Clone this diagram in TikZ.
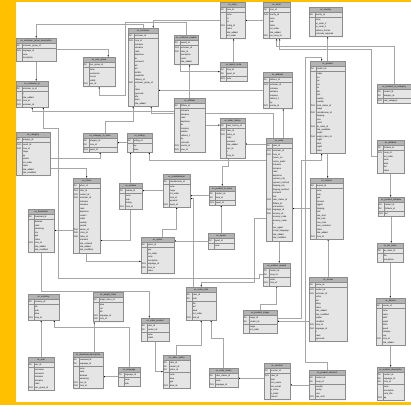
\documentclass[tikz,border=0pt]{standalone}
\usepackage{fontspec}
\setmainfont{Liberation Sans}
\usetikzlibrary{calc, positioning, shapes.multipart, arrows.meta, backgrounds, shadows}

\definecolor{framecol}{RGB}{255,192,0}
\definecolor{hdrcol}{RGB}{192,192,192}
\definecolor{edgecol}{RGB}{140,140,140}

\tikzstyle{dbtable}=[rectangle split, rectangle split parts=3, draw=edgecol, line width=0.3mm,
  rectangle split part fill={hdrcol,white,white}, rectangle split part align={center,left,left},
  drop shadow={opacity=0.2, shadow xshift=0.7mm, shadow yshift=-0.7mm},
  inner xsep=0.8mm, inner ysep=2pt, anchor=north west, font=\fontsize{6.2}{9.9}\selectfont]
\tikzstyle{divider}=[draw=edgecol, line width=0.2mm]
\tikzstyle{fk}=[draw=black!35, line width=0.45mm, -{Latex[length=1.6mm,width=1.4mm,black]}]

% one row of a table: key label, column name
\newcommand{\dbrow}[2]{\makebox[5.2mm][l]{#1}#2}
\newcommand{\dbf}[1]{\dbrow{}{#1}}
% name, top left corner, width, title, key rows, other rows
\newcommand{\dbtable}[6]{%
  \node[dbtable, minimum width=#3mm] (#1) at #2
    {\strut #4\nodepart{two}\begin{tabular}{@{}l@{}}#5\end{tabular}\nodepart{three}\begin{tabular}{@{}l@{}}#6\end{tabular}};%
  \draw[divider] ([xshift=6mm]#1.text split west) -- ([xshift=6mm]#1.south west);%
}

\begin{document}
\begin{tikzpicture}[x=1mm, y=-1mm]
\useasboundingbox (0,0) rectangle (411,405);

% Customer tables
\dbtable{cgd}{(16,38)}{40}{oc\_customer\_group\_description}{\dbrow{PK}{customer\_group\_id}}
  {\dbrow{FK1}{language\_id}\\\dbf{name}\\\dbf{description}}
\dbtable{ugr}{(83,57)}{32}{oc\_user\_group}{\dbrow{PK}{user\_group\_id}}
  {\dbf{name}\\\dbf{permission}\\\dbf{access}\\\dbf{modify}\\\dbrow{FK1}{user\_id}}
\dbtable{cip}{(16,81)}{32}{oc\_customer\_ip}{\dbrow{PK}{customer\_ip\_id}}
  {\dbf{ip}\\\dbf{date\_added}\\\dbrow{FK1}{store\_id}\\\dbrow{FK2}{customer\_id}}
\dbtable{cus}{(128,28)}{30}{oc\_customer}{\dbrow{PK}{customer\_id}}
  {\dbrow{FK1}{store\_id}\\\dbf{firstname}\\\dbf{lastname}\\\dbf{email}\\\dbf{telephone}\\\dbf{fax}\\\dbf{password}\\\dbf{salt}\\\dbf{cart}\\\dbf{wishlist}\\\dbf{newsletter}\\\dbf{address\_id}\\\dbrow{FK2}{customer\_group\_id}\\\dbf{ip}\\\dbf{status}\\\dbf{approved}\\\dbf{safe}\\\dbf{token}\\\dbf{date\_added}}
\dbtable{crw}{(174,35)}{24}{oc\_customer\_reward}{\dbrow{PK}{reward\_id}}
  {\dbrow{FK1}{customer\_id}\\\dbrow{FK2}{order\_id}\\\dbf{description}\\\dbf{points}\\\dbf{date\_added}}
\dbtable{aff}{(174,98)}{31}{oc\_affiliate}{\dbrow{PK}{affiliate\_id}}
  {\dbf{firstname}\\\dbf{lastname}\\\dbf{email}\\\dbf{telephone}\\\dbf{fax}\\\dbf{company}\\\dbf{website}\\\dbf{address\_1}\\\dbf{city}\\\dbf{postcode}\\\dbrow{FK1}{country\_id}\\\dbrow{FK2}{zone\_id}}

% Store and location tables
\dbtable{str}{(220,2)}{25}{oc\_store}{\dbrow{PK}{store\_id}}
  {\dbf{name}\\\dbf{url}\\\dbf{ssl}\\\dbrow{FK1}{config\_id}\\\dbf{status}\\\dbf{date\_added}\\\dbf{sort\_order}}
\dbtable{sly}{(220,62)}{27}{oc\_layout\_route}{\dbrow{PK}{store\_id}\\\dbrow{PK}{layout\_id}}
  {\dbrow{FK1}{route}}
\dbtable{his}{(220,118)}{25}{oc\_order\_history}{\dbrow{PK}{order\_history\_id}}
  {\dbrow{FK1}{order\_id}\\\dbrow{FK2}{status\_id}\\\dbf{notify}\\\dbf{comment}\\\dbf{date\_added}\\\dbf{user\_id}\\\dbf{ip}\\\dbf{store\_id}}
\dbtable{zon}{(263,2)}{27}{oc\_zone}{\dbrow{PK}{zone\_id}}
  {\dbrow{FK1}{country\_id}\\\dbf{name}\\\dbf{code}\\\dbf{status}\\\dbf{sort\_order}\\\dbf{date\_added}\\\dbrow{FK2}{geo\_zone\_id}}
\dbtable{ctr}{(309,7)}{33}{oc\_country}{\dbrow{PK}{country\_id}}
  {\dbf{name}\\\dbf{iso\_code\_2}\\\dbf{iso\_code\_3}\\\dbf{address\_format}\\\dbf{postcode\_required}}
\dbtable{adr}{(263,72)}{29}{oc\_address}{\dbrow{PK}{address\_id}}
  {\dbrow{FK1}{customer\_id}\\\dbf{firstname}\\\dbf{lastname}\\\dbf{company}\\\dbf{address\_1}\\\dbf{city}\\\dbrow{FK2}{country\_id}}

% Product tables
\dbtable{prd}{(310,61)}{35}{oc\_product}{\dbrow{PK}{product\_id}}
  {\dbf{model}\\\dbf{sku}\\\dbf{upc}\\\dbf{ean}\\\dbf{jan}\\\dbf{isbn}\\\dbf{mpn}\\\dbf{location}\\\dbf{quantity}\\\dbrow{FK1}{stock\_status\_id}\\\dbf{image}\\\dbrow{FK2}{manufacturer\_id}\\\dbf{shipping}\\\dbf{price}\\\dbf{points}\\\dbrow{FK3}{tax\_class\_id}\\\dbf{date\_available}\\\dbf{weight}\\\dbrow{FK4}{weight\_class\_id}\\\dbf{length}\\\dbf{width}\\\dbf{height}\\\dbf{status}}
\dbtable{ptc}{(377,84)}{34}{oc\_product\_to\_category}{\dbrow{PK}{product\_id}\\\dbrow{PK}{category\_id}}
  {\dbrow{FK1}{main\_category}}
\dbtable{att}{(377,140)}{27}{oc\_attribute}{\dbrow{PK}{attribute\_id}}
  {\dbrow{FK1}{group\_id}\\\dbf{sort\_order}\\\dbf{name}\\\dbf{value}\\\dbf{text}\\\dbf{status}}
\dbtable{pat}{(378,197)}{26}{oc\_product\_attribute}{\dbrow{PK}{product\_id}\\\dbrow{PK}{attribute\_id}}
  {\dbrow{FK1}{text}}
\dbtable{tax}{(377,243)}{26}{oc\_tax\_class}{\dbrow{PK}{tax\_class\_id}}
  {\dbf{title}\\\dbf{description}}
\dbtable{ban}{(376,298)}{29}{oc\_banner}{\dbrow{PK}{banner\_id}}
  {\dbf{name}\\\dbf{status}\\\dbf{width}\\\dbf{height}\\\dbf{effect}\\\dbf{speed}\\\dbf{autoplay}\\\dbf{loop}\\\dbrow{FK1}{store\_id}\\\dbf{date\_added}}
\dbtable{pdd}{(377,367)}{27}{oc\_product\_description}{\dbrow{PK}{product\_id}\\\dbrow{PK}{language\_id}\\\dbrow{PK}{store\_id}}
  {\dbf{name}\\\dbf{description}\\\dbf{meta\_title}\\\dbrow{FK1}{tag}}
\dbtable{cpn}{(310,178)}{33}{oc\_coupon}{\dbrow{PK}{coupon\_id}}
  {\dbf{name}\\\dbf{code}\\\dbf{type}\\\dbf{discount}\\\dbf{logged}\\\dbf{shipping}\\\dbf{total}\\\dbf{date\_start}\\\dbf{date\_end}\\\dbf{uses\_total}\\\dbf{uses\_customer}\\\dbf{status}\\\dbf{date\_added}\\\dbrow{FK1}{store\_id}}
\dbtable{rev}{(309,277)}{38}{oc\_review}{\dbrow{PK}{review\_id}}
  {\dbrow{FK1}{product\_id}\\\dbrow{FK2}{customer\_id}\\\dbf{author}\\\dbf{text}\\\dbf{rating}\\\dbf{status}\\\dbf{date\_added}\\\dbf{date\_modified}\\\dbf{helpful}\\\dbf{unhelpful}\\\dbrow{FK3}{store\_id}\\\dbrow{FK4}{language\_id}\\\dbf{ip}\\\dbf{email}\\\dbf{approved}}
\dbtable{pds}{(309,370)}{36}{oc\_product\_discount}{\dbrow{PK}{product\_id}\\\dbrow{PK}{group\_id}}
  {\dbf{quantity}\\\dbf{priority}\\\dbf{price}\\\dbrow{FK1}{date\_start}}
\dbtable{prw}{(263,263)}{27}{oc\_product\_reward}{\dbrow{PK}{product\_id}\\\dbrow{PK}{group\_id}}
  {\dbf{points}\\\dbrow{FK1}{store\_id}}
\dbtable{pim}{(243,310)}{34}{oc\_product\_image}{\dbrow{PK}{image\_id}\\\dbrow{PK}{product\_id}}
  {\dbf{image}\\\dbf{sort\_order}}
\dbtable{vch}{(264,363)}{26}{oc\_voucher}{\dbrow{PK}{voucher\_id}}
  {\dbrow{FK1}{order\_id}\\\dbf{code}\\\dbf{from\_name}\\\dbf{from\_email}\\\dbf{to\_name}\\\dbf{to\_email}\\\dbf{amount}}

% Order tables
\dbtable{ord}{(266,138)}{26}{oc\_order}{\dbrow{PK}{order\_id}}
  {\dbrow{FK1}{customer\_id}\\\dbrow{FK2}{store\_id}\\\dbf{invoice\_no}\\\dbf{invoice\_prefix}\\\dbf{firstname}\\\dbf{lastname}\\\dbf{email}\\\dbf{telephone}\\\dbf{payment\_city}\\\dbf{payment\_method}\\\dbf{shipping\_city}\\\dbf{shipping\_method}\\\dbf{comment}\\\dbf{total}\\\dbrow{FK3}{order\_status\_id}\\\dbf{affiliate\_id}\\\dbf{commission}\\\dbrow{FK4}{language\_id}\\\dbrow{FK5}{currency\_id}\\\dbf{currency\_code}\\\dbf{currency\_value}\\\dbf{ip}\\\dbf{user\_agent}\\\dbf{accept\_language}\\\dbf{date\_added}\\\dbf{date\_modified}}
\dbtable{ots}{(186,287)}{30}{oc\_order\_total}{\dbrow{PK}{order\_id}\\\dbrow{PK}{code}}
  {\dbf{title}\\\dbf{text}\\\dbf{value}\\\dbf{sort\_order}\\\dbrow{FK1}{total\_id}}
\dbtable{opd}{(141,318)}{28}{oc\_order\_product}{\dbrow{PK}{order\_id}\\\dbrow{PK}{product\_id}}
  {\dbf{name}\\\dbf{model}}
\dbtable{oop}{(163,355)}{27}{oc\_order\_option}{\dbrow{PK}{order\_id}\\\dbrow{PK}{product\_id}\\\dbrow{PK}{option\_id}}
  {\dbf{name}\\\dbf{value}\\\dbf{type}\\\dbrow{FK1}{value\_id}}
\dbtable{sts}{(209,368)}{29}{oc\_order\_status}{\dbrow{PK}{order\_status\_id}}
  {\dbf{name}\\\dbrow{FK1}{language\_id}}

% Catalog tables
\dbtable{cat}{(16,132)}{34}{oc\_category}{\dbrow{PK}{category\_id}}
  {\dbrow{FK1}{parent\_id}\\\dbrow{FK2}{store\_id}\\\dbf{image}\\\dbf{top}\\\dbf{column}\\\dbf{sort\_order}\\\dbf{status}\\\dbf{date\_added}\\\dbf{date\_modified}}
\dbtable{cts}{(83,133)}{34}{oc\_category\_to\_store}{\dbrow{PK}{category\_id}\\\dbrow{PK}{store\_id}}
  {\dbrow{FK1}{layout\_id}}
\dbtable{cfg}{(127,133)}{25}{oc\_setting}{\dbrow{PK}{setting\_id}}
  {\dbf{key}\\\dbf{value}}
\dbtable{ret}{(73,178)}{27}{oc\_return}{\dbrow{PK}{return\_id}}
  {\dbrow{FK1}{order\_id}\\\dbrow{FK2}{product\_id}\\\dbrow{FK3}{customer\_id}\\\dbf{firstname}\\\dbf{lastname}\\\dbf{email}\\\dbf{telephone}\\\dbf{product}\\\dbf{model}\\\dbf{quantity}\\\dbf{opened}\\\dbrow{FK4}{reason\_id}\\\dbrow{FK5}{action\_id}\\\dbrow{FK6}{status\_id}\\\dbf{comment}\\\dbf{date\_ordered}\\\dbf{date\_added}\\\dbf{date\_modified}}
\dbtable{dwn}{(28,209)}{26}{oc\_download}{\dbrow{PK}{download\_id}}
  {\dbf{filename}\\\dbf{mask}\\\dbf{remaining}\\\dbf{size}\\\dbf{type}\\\dbf{status}\\\dbrow{FK1}{store\_id}\\\dbf{date\_added}\\\dbf{date\_modified}}
\dbtable{mod}{(119,183)}{23}{oc\_module}{\dbrow{PK}{module\_id}}
  {\dbf{name}\\\dbf{code}\\\dbf{setting}\\\dbrow{FK1}{store\_id}}
\dbtable{man}{(163,174)}{27}{oc\_manufacturer}{\dbrow{PK}{manufacturer\_id}}
  {\dbf{name}\\\dbf{image}\\\dbf{sort\_order}\\\dbf{store\_id}\\\dbf{keyword}\\\dbrow{FK1}{layout\_id}}
\dbtable{pts}{(209,186)}{26}{oc\_product\_to\_store}{\dbrow{PK}{product\_id}\\\dbrow{PK}{store\_id}}
  {\dbrow{FK1}{layout\_id}}
\dbtable{lay}{(208,233)}{26}{oc\_layout}{\dbrow{PK}{layout\_id}}
  {\dbf{name}}
\dbtable{opt}{(141,237)}{33}{oc\_option}{\dbrow{PK}{option\_id}}
  {\dbf{type}\\\dbf{sort\_order}\\\dbf{name}\\\dbf{description}\\\dbrow{FK1}{language\_id}\\\dbrow{FK2}{store\_id}\\\dbf{status}}

% Localisation and user tables
\dbtable{cur}{(28,294)}{31}{oc\_currency}{\dbrow{PK}{currency\_id}}
  {\dbf{title}\\\dbf{code}\\\dbf{value}\\\dbrow{FK1}{store\_id}}
\dbtable{wgt}{(93,292)}{30}{oc\_weight\_class}{\dbrow{PK}{weight\_class\_id}}
  {\dbf{value}\\\dbf{unit}\\\dbf{title}\\\dbrow{FK1}{language\_id}\\\dbrow{FK2}{store\_id}}
\dbtable{usr}{(28,357)}{26}{oc\_user}{\dbrow{PK}{user\_id}}
  {\dbf{username}\\\dbf{password}\\\dbf{firstname}\\\dbf{lastname}\\\dbf{email}\\\dbrow{FK1}{user\_group\_id}}
\dbtable{dsc}{(73,352)}{30}{oc\_download\_description}{\dbrow{PK}{download\_id}\\\dbrow{PK}{language\_id}}
  {\dbf{name}\\\dbf{mask}\\\dbf{filename}\\\dbf{remaining}\\\dbrow{FK1}{user\_id}\\\dbrow{FK2}{store\_id}}
\dbtable{lng}{(118,367)}{22}{oc\_language}{\dbrow{PK}{language\_id}}
  {\dbf{name}\\\dbf{code}}

\begin{scope}[on background layer]
  % Frame
  \fill[framecol] (0,0) rectangle (411,405);
  \fill[white] (16,2) rectangle (411,402);

  % Connect the foreign keys to their tables
  \draw[fk] (cus.north) -- ++(0,-4) -| (cgd.north);
  \draw[fk] (cgd.east) -| ([xshift=9mm]ugr.north);
  \draw[fk] (crw.north) -- ++(0,-13) -- (125,22) -- (125,95) -| (ugr.south);
  \draw[fk] (cgd.south) -- (cgd.south |- cip.north);
  \draw[fk] ([yshift=13.5mm]aff.west) -| (cip.south);
  \draw[fk] (adr.west) -- (adr.west -| cus.east);
  \draw[fk] (str.west) -| ([xshift=10mm]cus.north);
  \draw[fk] (zon.west) -- (zon.west -| str.east);
  \draw[fk] ([xshift=-6mm]crw.south) |- (sly.west);
  \draw[fk] (sly.north) -- (sly.north |- str.south);
  \draw[fk] (aff.north) -- (aff.north |- crw.south);
  \draw[fk] (aff.east) -- (aff.east -| his.west);
  \draw[fk] (prd.north) -- (prd.north |- ctr.south);
  \draw[fk] (ptc.north) -- ++(0,-38) -| (zon.south);
  \draw[fk] (att.west) -| (371,49) -| ([xshift=3mm]zon.south);
  \draw[fk] (att.south) -- (att.south |- pat.north);
  \draw[fk] (pat.south) -- (pat.south |- tax.north);
  \draw[fk] (tax.south) -- (tax.south |- ban.north);
  \draw[fk] (ban.south) -- (ban.south |- pdd.north);
  \draw[fk] (prd.south) -- (prd.south |- cpn.north);
  \draw[fk] (pds.north) -- ++(0,-8) -| (305,57) -| ([xshift=-6mm]prd.north);
  \draw[fk] ([yshift=3mm]pim.east) -| (301,160) -| ([xshift=-6mm]prd.south);
  \draw[fk] ([yshift=-6mm]ord.north west) -- ([yshift=-6mm]ord.north west -| his.east);
  \draw[fk] ([yshift=-22mm]ord.north west) -| ([xshift=-3mm]cfg.south east);
  \draw[fk] ([xshift=-6mm]ord.north) -- ++(0,-25) -| ([xshift=8mm]cus.south);
  \draw[fk] ([xshift=4mm]ord.north) -- ([xshift=4mm]ord.north |- adr.south);
  \draw[fk] ([xshift=-4mm]his.south) -- ++(0,8) -| (pts.north);
  \draw[fk] ([yshift=-80mm]ord.north west) -- ++(-12,0) -- ++(0,64) -| (ots.north);
  \draw[fk] (ord.south) -- (ord.south |- prw.north);
  \draw[fk] (cpn.west) -- (cpn.west -| ord.east);
  \draw[fk] (rev.north) -- (rev.north |- cpn.south);
  \draw[fk] (pim.north) -- ++(0,-6) -| (prw.south);
  \draw[fk] ([yshift=-12mm]rev.west) -- ([yshift=-12mm]rev.west -| pim.east);
  \draw[fk] (pds.west) -- (pds.west -| vch.east);
  \draw[fk] ([yshift=3mm]vch.west) -- ([yshift=3mm]vch.west -| sts.east);
  \draw[fk] (oop.north) -- ++(0,-10) -| (ots.south);
  \draw[fk] (opd.south) |- (oop.west);
  \draw[fk] (sts.north) -- ++(0,-30) -| ([xshift=10mm]ots.south);
  \draw[fk] ([xshift=-8mm]ots.north) |- ([yshift=-8mm]man.east);
  \draw[fk] (lng.north) -- ++(0,-40) -| ([xshift=-5mm]cur.south east);
  \draw[fk] (lng.west) -- (lng.west -| dsc.east);
  \draw[fk] (usr.north) -- (usr.north |- cur.south);
  \draw[fk] ([xshift=6mm]dsc.north) -- ([xshift=6mm]dsc.north |- wgt.south);
  \draw[fk] (dwn.south) -- ++(0,38.5) -| ([xshift=-6mm]opd.north);
  \draw[fk] ([yshift=-15mm]ret.west) -- ([yshift=-15mm]ret.west -| dwn.east);
  \draw[fk] ([yshift=-14mm]cat.east) -| (ret.north);
  \draw[fk] (mod.south) |- ([yshift=-25mm]ret.east);
  \draw[fk] (cfg.west) -- (cfg.west -| cts.east);
  \draw[fk] ([yshift=-4mm]cat.east) -| (cts.south);
  \draw[fk] ([xshift=5mm]cts.north) -- ++(0,-12) -| ([xshift=-10mm]cus.south);
  \draw[fk] (man.west) -- (man.west -| mod.east);
  \draw[fk] (pts.west) -- (pts.west -| man.east);
  \draw[fk] (lay.north) -- (lay.north |- pts.south);
  \draw[fk] (lay.west) -- (lay.west -| opt.east);
  \draw[fk] ([xshift=5mm]opt.north) -- ++(0,-8) -| (man.south);
  \draw[fk] (ret.south) |- ([yshift=-6mm]opt.west);
  \draw[fk] (mod.north) -- (mod.north |- cfg.south);
  \draw[fk] (prw.west) -| (259,278) -- (58,278) -- (58,128) -| ([xshift=-5mm]cip.south east);
\end{scope}
\end{tikzpicture}
\end{document}
